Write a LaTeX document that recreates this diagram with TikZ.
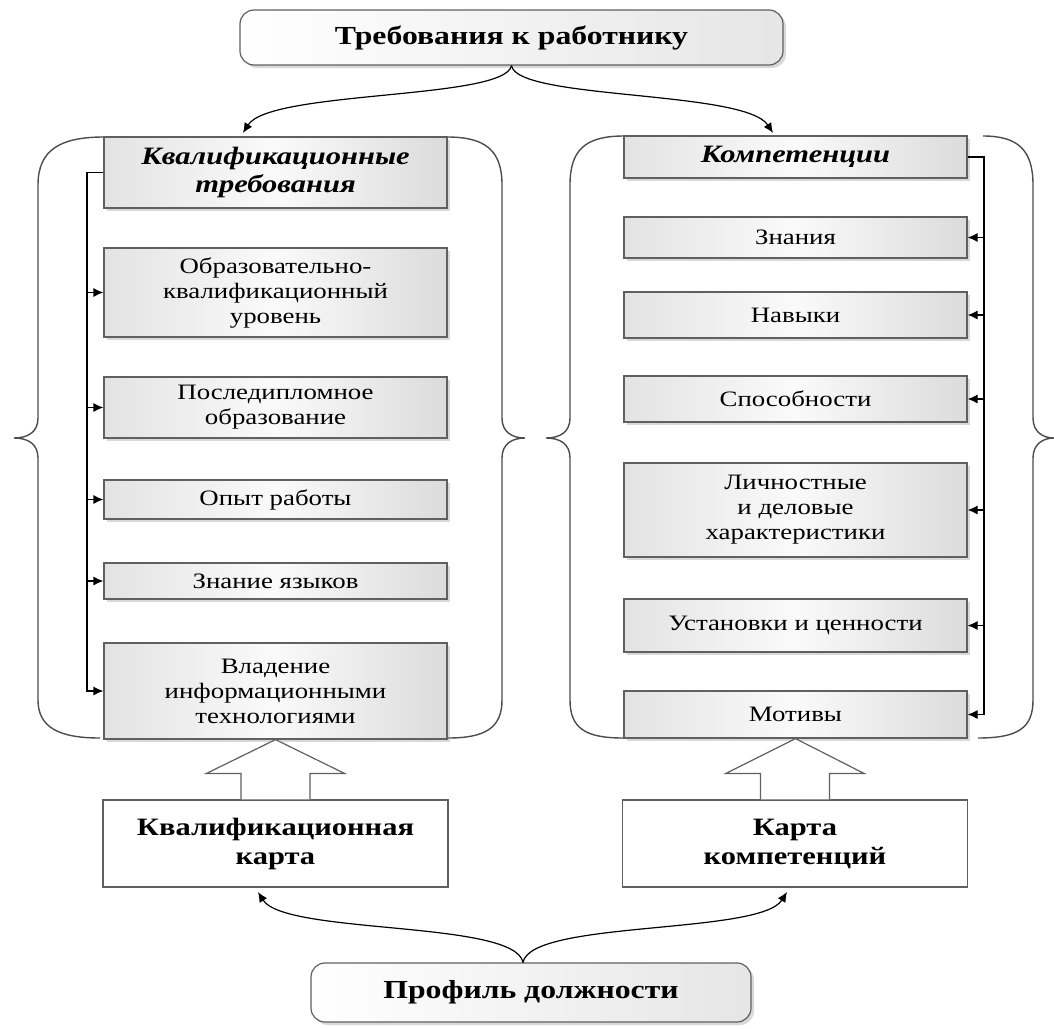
\documentclass[tikz,border=0pt]{standalone}
\usepackage{fontspec}
\setmainfont{Liberation Serif}[FakeStretch=1.22]
\usetikzlibrary{arrows.meta,shadows,calc}

\begin{document}
\begin{tikzpicture}[
            x=0.5pt, y=-0.5pt,
            item/.style={
                draw=gray!75!black,
                line width=0.6pt,
                left color=gray!22,
                right color=gray!28,
                middle color=gray!4,
                drop shadow={shadow xshift=1.5pt, shadow yshift=-1.5pt, opacity=0.3},
                minimum width=171.5pt,
                inner sep=2pt,
                align=center,
                font=\fontsize{11}{12.5}\selectfont
            },
            head/.style={item, font=\fontsize{12.5}{14}\selectfont\bfseries\itshape},
            roundbox/.style={
                draw=gray!75!black,
                line width=0.6pt,
                rounded corners=7pt,
                left color=white,
                right color=gray!20,
                drop shadow={shadow xshift=1.5pt, shadow yshift=-1.5pt, opacity=0.3},
                align=center,
                font=\fontsize{13}{15}\selectfont\bfseries
            },
            mapbox/.style={
                draw=gray!75!black,
                line width=0.6pt,
                fill=white,
                minimum width=172.5pt,
                minimum height=43.5pt,
                align=center,
                font=\fontsize{12.5}{14.5}\selectfont\bfseries
            },
            brace/.style={draw=gray!60!black, line width=0.7pt},
            arrow/.style={-{Latex[length=5pt,width=4.5pt]}, line width=0.6pt},
            blockarrow/.style={draw=gray!75!black, fill=white, line width=0.6pt}
        ]
        \useasboundingbox (0,0) rectangle (1054,1028);

        % braces round the two columns
        \draw[brace] (104,137) .. controls (60,137) and (38,150) .. (38,185) -- (38,418)
            .. controls (38,432) and (28,438) .. (14,438) .. controls (28,438) and (38,444) .. (38,458)
            -- (38,700) .. controls (38,728) and (60,738) .. (100,738);
        \draw[brace] (447,137) .. controls (485,137) and (502,150) .. (502,185) -- (502,418)
            .. controls (502,432) and (512,438) .. (525,438) .. controls (512,438) and (502,444) .. (502,458)
            -- (502,700) .. controls (502,728) and (485,738) .. (448,738);
        \draw[brace] (624,136) .. controls (585,136) and (570,150) .. (570,185) -- (570,418)
            .. controls (570,432) and (560,438) .. (546,438) .. controls (560,438) and (570,444) .. (570,458)
            -- (570,700) .. controls (570,728) and (585,738) .. (623,738);
        \draw[brace] (983,136) .. controls (1018,136) and (1033,150) .. (1033,185) -- (1033,418)
            .. controls (1033,432) and (1043,438) .. (1054,438) .. controls (1043,438) and (1033,444) .. (1033,458)
            -- (1033,700) .. controls (1033,728) and (1018,738) .. (978,738);

        \node[roundbox, minimum width=271.5pt, minimum height=27.5pt] (treb) at (511.5,37.5) {Требования к работнику};

        % left column
        \node[head, minimum height=35.5pt] (lhead) at (275.5,172.5) {Квалификационные\\требования};
        \node[item, minimum height=44.5pt] (obr) at (275.5,292.5) {Образовательно-\\квалификационный\\уровень};
        \node[item, minimum height=30.5pt] (posl) at (275.5,407.5) {Последипломное\\образование};
        \node[item, minimum height=19.5pt] (opyt) at (275.5,499.5) {Опыт работы};
        \node[item, minimum height=18pt] (yaz) at (275.5,581) {Знание языков};
        \node[item, minimum height=48pt] (vlad) at (275.5,691) {Владение\\информационными\\технологиями};

        % right column
        \node[head, minimum height=21pt] (rhead) at (795.5,157) {Компетенции};
        \node[item, minimum height=20.5pt] (zn) at (795.5,237.5) {Знания};
        \node[item, minimum height=23pt] (nav) at (795.5,315) {Навыки};
        \node[item, minimum height=23pt] (spos) at (795.5,399) {Способности};
        \node[item, minimum height=47pt] (lich) at (795.5,510) {Личностные\\и деловые\\характеристики};
        \node[item, minimum height=26.5pt] (ust) at (795.5,625.5) {Установки и ценности};
        \node[item, minimum height=23.5pt] (motiv) at (795.5,714.5) {Мотивы};

        \node[mapbox] (kmap) at (275.5,843.5) {Квалификационная\\карта};
        \node[mapbox] (cmap) at (795,843.5) {Карта\\компетенций};
        \node[roundbox, minimum width=220pt, minimum height=29.5pt] (prof) at (531,992.5) {Профиль должности};

        \coordinate (lbus) at (87,0);
        \coordinate (rbus) at (984,0);

        \draw[arrow] (treb.south) .. controls (505,100) and (270,90) .. (243,133);
        \draw[arrow] (treb.south) .. controls (517,100) and (745,90) .. (773,133);

        \draw[arrow] (lhead.west) -- (lhead.west -| lbus) |- (vlad.west);
        \draw[arrow] (obr.west -| lbus) -- (obr.west);
        \draw[arrow] (posl.west -| lbus) -- (posl.west);
        \draw[arrow] (opyt.west -| lbus) -- (opyt.west);
        \draw[arrow] (yaz.west -| lbus) -- (yaz.west);

        \draw[arrow] (rhead.east) -- (rhead.east -| rbus) |- (motiv.east);
        \draw[arrow] (zn.east -| rbus) -- (zn.east);
        \draw[arrow] (nav.east -| rbus) -- (nav.east);
        \draw[arrow] (spos.east -| rbus) -- (spos.east);
        \draw[arrow] (lich.east -| rbus) -- (lich.east);
        \draw[arrow] (ust.east -| rbus) -- (ust.east);

        \draw[blockarrow] ($(kmap.north)+(-34.5,0)$) -- ++(0,-26) -- ++(-34.5,0) -- (vlad.south)
            -- ($(kmap.north)+(69,-26)$) -- ++(-34.5,0) -- ($(kmap.north)+(34.5,0)$);
        \draw[blockarrow] ($(cmap.north)+(-34.5,0)$) -- ++(0,-26) -- ++(-34.5,0) -- (motiv.south)
            -- ($(cmap.north)+(69,-26)$) -- ++(-34.5,0) -- ($(cmap.north)+(34.5,0)$);

        \draw[arrow] ([xshift=-4pt]prof.north) .. controls (515,920) and (285,935) .. (258,892);
        \draw[arrow] ([xshift=-4pt]prof.north) .. controls (531,920) and (760,935) .. (787,892);

        \end{tikzpicture}
\end{document}
